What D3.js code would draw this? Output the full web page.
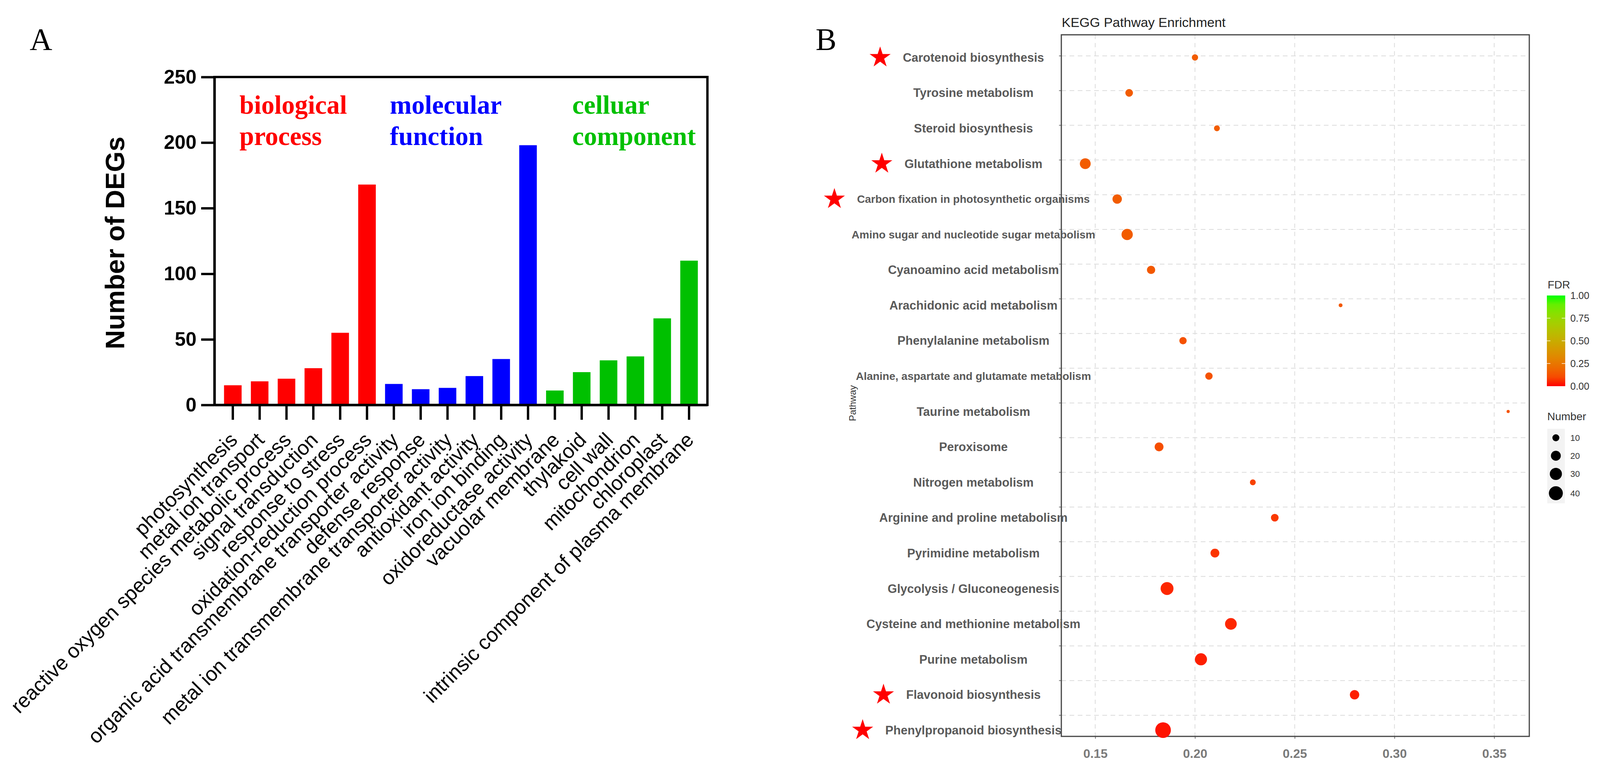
<!DOCTYPE html>
<html>
<head>
<meta charset="utf-8">
<script src="https://cdn.jsdelivr.net/npm/d3@7"></script>
<style>
  html, body { margin: 0; padding: 0; background: #fff; }
  svg { display: block; }
</style>
</head>
<body>
<div id="chart"></div>
<script>
// ── Data: panel A (GO enrichment bar chart) ──────────────────────────────────
const GO_TERMS = [
  "photosynthesis", "metal ion transport", "reactive oxygen species metabolic process",
  "signal transduction", "response to stress", "oxidation-reduction process",
  "organic acid transmembrane transporter activity", "defense response",
  "metal ion transmembrane transporter activity", "antioxidant activity",
  "iron ion binding", "oxidoreductase activity",
  "vacuolar membrane", "thylakoid", "cell wall", "mitochondrion", "chloroplast",
  "intrinsic component of plasma membrane"
];
const GO_COUNTS = [15, 18, 20, 28, 55, 168, 16, 12, 13, 22, 35, 198, 11, 25, 34, 37, 66, 110];
const GO_GROUP  = ["bp","bp","bp","bp","bp","bp","mf","mf","mf","mf","mf","mf","cc","cc","cc","cc","cc","cc"];
const GROUP_KEYS   = ["bp", "mf", "cc"];
const GROUP_LINES  = [["biological", "process"], ["molecular", "function"], ["celluar", "component"]];
const Y_TICKS_A    = [0, 50, 100, 150, 200, 250];

// ── Data: panel B (KEGG pathway enrichment) ──────────────────────────────────
const PATHWAYS = [
  "Carotenoid biosynthesis", "Tyrosine metabolism", "Steroid biosynthesis",
  "Glutathione metabolism", "Carbon fixation in photosynthetic organisms",
  "Amino sugar and nucleotide sugar metabolism", "Cyanoamino acid metabolism",
  "Arachidonic acid metabolism", "Phenylalanine metabolism",
  "Alanine, aspartate and glutamate metabolism", "Taurine metabolism", "Peroxisome",
  "Nitrogen metabolism", "Arginine and proline metabolism", "Pyrimidine metabolism",
  "Glycolysis / Gluconeogenesis", "Cysteine and methionine metabolism",
  "Purine metabolism", "Flavonoid biosynthesis", "Phenylpropanoid biosynthesis"
];
const RICH_FACTOR = [0.200, 0.167, 0.211, 0.145, 0.161, 0.166, 0.178, 0.273, 0.194, 0.207,
                     0.357, 0.182, 0.229, 0.240, 0.210, 0.186, 0.218, 0.203, 0.280, 0.184];
const GENE_NUMBER = [8, 12, 7, 24, 18, 26, 14, 3, 11, 11, 2, 16, 7, 12, 16, 34, 28, 30, 18, 50];
const FDR         = [0.15, 0.15, 0.15, 0.15, 0.15, 0.15, 0.14, 0.14, 0.12, 0.12,
                     0.12, 0.11, 0.08, 0.06, 0.05, 0.03, 0.03, 0.02, 0.02, 0.01];
const STARRED     = ["Carotenoid biosynthesis", "Glutathione metabolism",
                     "Carbon fixation in photosynthetic organisms",
                     "Flavonoid biosynthesis", "Phenylpropanoid biosynthesis"];
const X_TICKS_B   = [0.15, 0.20, 0.25, 0.30, 0.35];
const FDR_TICKS   = [0, 0.25, 0.5, 0.75, 1];
const SIZE_KEYS   = [10, 20, 30, 40];

// ── Styles ───────────────────────────────────────────────────────────────────
const GROUP_COLOR = { bp: "#ff0000", mf: "#0000ff", cc: "#00c000" };
const SANS  = "'Liberation Sans', Arial, sans-serif";
const SERIF = "'Liberation Serif', 'Times New Roman', serif";

// ── SVG ──────────────────────────────────────────────────────────────────────
const W = 4108, H = 1970;
const svg = d3.select("#chart").append("svg")
  .attr("width", W).attr("height", H)
  .attr("viewBox", `0 0 ${W} ${H}`);
svg.append("rect").attr("width", W).attr("height", H).attr("fill", "#fff");

// ════════════════════════════════════════════════════════════════════════════
// Panel A
// ════════════════════════════════════════════════════════════════════════════
const A = { left: 549, right: 1811, top: 197, bottom: 1036 };
const gA = svg.append("g");

gA.append("text")
  .attr("x", 76).attr("y", 128)
  .style("font-family", SERIF).style("font-size", "80px")
  .text("A");

const xA = d3.scaleBand().domain(GO_TERMS).range([A.left, A.right])
  .paddingInner(0.345).paddingOuter(0.357);
const yA = d3.scaleLinear().domain([0, 250]).range([A.bottom, A.top]);

// bars
gA.selectAll(".bar").data(GO_TERMS).join("rect")
  .attr("class", "bar")
  .attr("x", d => xA(d))
  .attr("width", xA.bandwidth())
  .attr("y", (d, i) => yA(GO_COUNTS[i]))
  .attr("height", (d, i) => yA(0) - yA(GO_COUNTS[i]))
  .attr("fill", (d, i) => GROUP_COLOR[GO_GROUP[i]]);

// frame
gA.append("rect")
  .attr("x", A.left).attr("y", A.top)
  .attr("width", A.right - A.left).attr("height", A.bottom - A.top)
  .attr("fill", "none").attr("stroke", "#000").attr("stroke-width", 6);

// y axis
const yAxisA = gA.append("g")
  .attr("transform", `translate(${A.left},0)`)
  .call(d3.axisLeft(yA).tickValues(Y_TICKS_A).tickSize(34).tickSizeOuter(0).tickPadding(12));
yAxisA.select(".domain").attr("stroke-width", 6);
yAxisA.selectAll(".tick line").attr("stroke-width", 6);
yAxisA.selectAll(".tick text")
  .style("font-family", SANS).style("font-size", "50px").style("font-weight", "bold")
  .attr("fill", "#000");

// x axis
const xAxisA = gA.append("g")
  .attr("transform", `translate(0,${A.bottom})`)
  .call(d3.axisBottom(xA).tickSize(38).tickSizeOuter(0));
xAxisA.select(".domain").attr("stroke-width", 6);
xAxisA.selectAll(".tick line").attr("stroke-width", 6);
xAxisA.selectAll(".tick text")
  .attr("x", 0).attr("y", 0).attr("dy", "0.35em")
  .attr("transform", "translate(2,80) rotate(-45)")
  .attr("text-anchor", "end")
  .attr("fill", "#000")
  .style("font-family", SANS).style("font-size", "52px");

// y title
gA.append("text")
  .attr("transform", `translate(318,${(A.top + A.bottom) / 2 + 5}) rotate(-90)`)
  .attr("text-anchor", "middle")
  .style("font-family", SANS).style("font-size", "68px").style("font-weight", "bold")
  .text("Number of DEGs");

// group headings
const GROUP_X = { bp: 613, mf: 998, cc: 1465 };
GROUP_KEYS.forEach((k, gi) => {
  const t = gA.append("text")
    .attr("x", GROUP_X[k]).attr("y", 291)
    .attr("fill", GROUP_COLOR[k])
    .style("font-family", SERIF).style("font-size", "67px").style("font-weight", "bold");
  GROUP_LINES[gi].forEach((line, li) => {
    t.append("tspan").attr("x", GROUP_X[k]).attr("dy", li === 0 ? 0 : 80).text(line);
  });
});

// ════════════════════════════════════════════════════════════════════════════
// Panel B
// ════════════════════════════════════════════════════════════════════════════
const B = { left: 2717, right: 3915, top: 89, bottom: 1884 };
const gB = svg.append("g");

gB.append("text")
  .attr("x", 2088).attr("y", 128)
  .style("font-family", SERIF).style("font-size", "80px")
  .text("B");

const xB = d3.scaleLinear().domain([0.133, 0.3676]).range([B.left, B.right]);
const yB = d3.scalePoint().domain(PATHWAYS).range([147, 1868]);
const yGrid = d3.scalePoint().domain(PATHWAYS).range([143, 1830]);
const rB = d3.scaleSqrt().domain([0, 50]).range([0, 20]);
const colorB = d3.scaleLinear().domain([0, 1]).range(["#ff0000", "#00ff00"])
  .interpolate(d3.interpolateLab);

// grid
gB.selectAll(".vgrid").data(X_TICKS_B).join("line")
  .attr("class", "vgrid")
  .attr("x1", d => xB(d)).attr("x2", d => xB(d))
  .attr("y1", B.top).attr("y2", B.bottom)
  .attr("stroke", "#dcdcdc").attr("stroke-width", 2).attr("stroke-dasharray", "11,10");
gB.selectAll(".hgrid").data(PATHWAYS).join("line")
  .attr("class", "hgrid")
  .attr("x1", B.left).attr("x2", B.right)
  .attr("y1", d => yGrid(d)).attr("y2", d => yGrid(d))
  .attr("stroke", "#dcdcdc").attr("stroke-width", 2).attr("stroke-dasharray", "12,9");
gB.selectAll(".ytick").data(PATHWAYS).join("line")
  .attr("class", "ytick")
  .attr("x1", B.left - 6).attr("x2", B.left)
  .attr("y1", d => yGrid(d)).attr("y2", d => yGrid(d))
  .attr("stroke", "#777").attr("stroke-width", 2);

// x axis
const xAxisB = gB.append("g")
  .attr("transform", `translate(0,${B.bottom})`)
  .call(d3.axisBottom(xB).tickValues(X_TICKS_B).tickFormat(d3.format(".2f"))
    .tickSize(6).tickSizeOuter(0).tickPadding(26));
xAxisB.select(".domain").remove();
xAxisB.selectAll(".tick line").attr("stroke", "#777").attr("stroke-width", 2);
xAxisB.selectAll(".tick text")
  .attr("fill", "#7a7a7a")
  .style("font-family", SANS).style("font-size", "32px").style("font-weight", "bold");

// frame
gB.append("rect")
  .attr("x", B.left).attr("y", B.top)
  .attr("width", B.right - B.left).attr("height", B.bottom - B.top)
  .attr("fill", "none").attr("stroke", "#444").attr("stroke-width", 3);

// dots
gB.selectAll(".dot").data(PATHWAYS).join("circle")
  .attr("class", "dot")
  .attr("cx", (d, i) => xB(RICH_FACTOR[i]))
  .attr("cy", d => yB(d))
  .attr("r", (d, i) => rB(GENE_NUMBER[i]))
  .attr("fill", (d, i) => colorB(FDR[i]));

// pathway labels (drawn over the frame, as in the figure)
const labels = gB.selectAll(".plabel").data(PATHWAYS).join("text")
  .attr("class", "plabel")
  .attr("x", 2492).attr("y", d => yB(d)).attr("dy", "0.35em")
  .attr("text-anchor", "middle")
  .attr("fill", "#5a5a5a")
  .style("font-family", SANS).style("font-weight", "bold")
  .style("font-size", d => d.length > 40 ? "28px" : "31px")
  .text(d => d);

// red stars next to highlighted pathways
const star = d3.symbol().type(d3.symbolStar).size(900);
labels.each(function (d) {
  if (!STARRED.includes(d)) return;
  const bb = this.getBBox();
  gB.append("path")
    .attr("d", star())
    .attr("transform", `translate(${bb.x - 58},${yB(d)})`)
    .attr("fill", "#ff0000");
});

// titles
gB.append("text")
  .attr("x", B.left + 1).attr("y", 69)
  .attr("fill", "#222")
  .style("font-family", SANS).style("font-size", "34px")
  .text("KEGG Pathway Enrichment");
gB.append("text")
  .attr("transform", `translate(2191,${(B.top + B.bottom) / 2 + 45}) rotate(-90)`)
  .attr("text-anchor", "middle")
  .attr("fill", "#333")
  .style("font-family", SANS).style("font-size", "24px")
  .text("Pathway");

// ── Legend: FDR colour bar ───────────────────────────────────────────────────
const LEG_X = 3960;
const legY = d3.scaleLinear().domain([0, 1]).range([988, 756]);
const defs = svg.append("defs");
const grad = defs.append("linearGradient").attr("id", "fdrGrad")
  .attr("x1", 0).attr("y1", 1).attr("x2", 0).attr("y2", 0);
d3.range(0, 1.0001, 0.1).forEach(t => {
  grad.append("stop").attr("offset", t).attr("stop-color", colorB(t));
});
gB.append("text")
  .attr("x", LEG_X + 2).attr("y", 738)
  .attr("fill", "#333")
  .style("font-family", SANS).style("font-size", "28px")
  .text("FDR");
gB.append("rect")
  .attr("x", LEG_X).attr("y", legY(1))
  .attr("width", 47).attr("height", legY(0) - legY(1))
  .attr("fill", "url(#fdrGrad)");
[0.25, 0.5, 0.75].forEach(t => {
  [[LEG_X, LEG_X + 9], [LEG_X + 38, LEG_X + 47]].forEach(([a, b]) => {
    gB.append("line").attr("x1", a).attr("x2", b)
      .attr("y1", legY(t)).attr("y2", legY(t))
      .attr("stroke", "#fff").attr("stroke-opacity", 0.7).attr("stroke-width", 2);
  });
});
gB.selectAll(".fdrTick").data(FDR_TICKS).join("text")
  .attr("class", "fdrTick")
  .attr("x", LEG_X + 60).attr("y", d => legY(d)).attr("dy", "0.35em")
  .attr("fill", "#333")
  .style("font-family", SANS).style("font-size", "25px")
  .text(d3.format(".2f"));

// ── Legend: Number (size) ────────────────────────────────────────────────────
gB.append("text")
  .attr("x", LEG_X + 1).attr("y", 1075)
  .attr("fill", "#333")
  .style("font-family", SANS).style("font-size", "28px")
  .text("Number");
let keyY = 1097;
SIZE_KEYS.forEach(k => {
  const h = Math.max(46, 2 * rB(k) + 16);
  gB.append("rect")
    .attr("x", LEG_X + 1).attr("y", keyY)
    .attr("width", 45).attr("height", h)
    .attr("fill", "#f3f3f3");
  gB.append("circle")
    .attr("cx", LEG_X + 23).attr("cy", keyY + h / 2)
    .attr("r", rB(k)).attr("fill", "#000");
  gB.append("text")
    .attr("x", LEG_X + 60).attr("y", keyY + h / 2).attr("dy", "0.35em")
    .attr("fill", "#333")
    .style("font-family", SANS).style("font-size", "22px")
    .text(k);
  keyY += h;
});
</script>
</body>
</html>
